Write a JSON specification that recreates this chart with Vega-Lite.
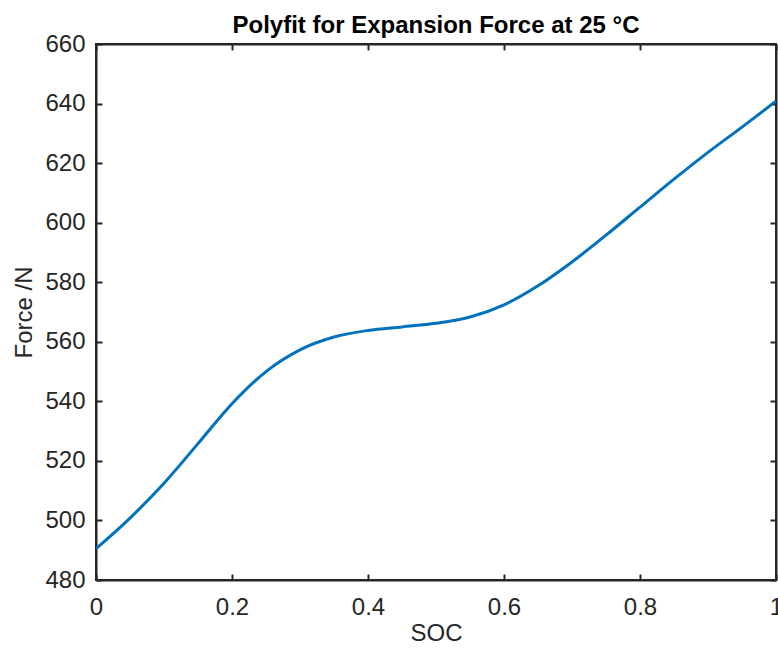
{
  "$schema": "https://vega.github.io/schema/vega-lite/v6.json",
  "autosize": "none",
  "padding": {"left": 96, "top": 44, "right": 2, "bottom": 76},
  "width": 680,
  "height": 536,
  "background": "white",
  "config": {
    "font": "Liberation Sans",
    "view": {"stroke": "#262626", "strokeWidth": 2},
    "axis": {
      "labelFont": "Liberation Sans",
      "titleFont": "Liberation Sans",
      "labelFontSize": 24,
      "titleFontSize": 24,
      "labelColor": "#262626",
      "titleColor": "#262626",
      "titleFontWeight": "normal",
      "grid": false,
      "domainColor": "#262626",
      "domainWidth": 2,
      "tickColor": "#262626",
      "tickWidth": 2,
      "tickSize": -6
    }
  },
  "title": {
    "text": "Polyfit for Expansion Force at 25 °C",
    "font": "Liberation Sans",
    "fontSize": 24,
    "fontWeight": "bold",
    "color": "#000000",
    "offset": -6
  },
  "data": {
    "values": [
      {"soc": 0.0, "force": 490.5},
      {"soc": 0.05, "force": 500.8},
      {"soc": 0.1, "force": 512.5},
      {"soc": 0.15, "force": 525.8},
      {"soc": 0.2, "force": 539.2},
      {"soc": 0.25, "force": 550.0},
      {"soc": 0.3, "force": 557.3},
      {"soc": 0.35, "force": 561.6},
      {"soc": 0.4, "force": 563.8},
      {"soc": 0.45, "force": 565.0},
      {"soc": 0.5, "force": 566.2},
      {"soc": 0.55, "force": 568.3},
      {"soc": 0.6, "force": 572.4},
      {"soc": 0.65, "force": 578.8},
      {"soc": 0.7, "force": 586.8},
      {"soc": 0.75, "force": 595.8},
      {"soc": 0.8, "force": 605.2},
      {"soc": 0.85, "force": 614.6},
      {"soc": 0.9, "force": 623.6},
      {"soc": 0.95, "force": 632.1},
      {"soc": 1.0, "force": 640.8}
    ]
  },
  "layer": [
    {
      "mark": {"type": "line", "color": "#0072BD", "strokeWidth": 3, "interpolate": "monotone", "clip": true},
      "encoding": {
        "x": {"field": "soc", "type": "quantitative", "scale": {"domain": [0, 1], "nice": false},
          "axis": {"orient": "bottom", "values": [0, 0.2, 0.4, 0.6, 0.8, 1], "format": "~g", "title": "SOC", "labelPadding": 21, "titlePadding": 2, "labelFlush": false}},
        "y": {"field": "force", "type": "quantitative", "scale": {"domain": [480, 660], "nice": false, "zero": false},
          "axis": {"orient": "left", "values": [480, 500, 520, 540, 560, 580, 600, 620, 640, 660], "title": "Force /N", "labelPadding": 17, "titlePadding": 8, "labelFlush": false}}
      }
    },
    {
      "mark": {"type": "line", "opacity": 0},
      "encoding": {
        "x": {"field": "soc", "type": "quantitative", "scale": {"domain": [0, 1], "nice": false},
          "axis": {"orient": "top", "values": [0, 0.2, 0.4, 0.6, 0.8, 1], "labels": false, "title": null}},
        "y": {"field": "force", "type": "quantitative", "scale": {"domain": [480, 660], "nice": false, "zero": false},
          "axis": {"orient": "right", "values": [480, 500, 520, 540, 560, 580, 600, 620, 640, 660], "labels": false, "title": null}}
      }
    }
  ],
  "resolve": {"axis": {"x": "independent", "y": "independent"}}
}
